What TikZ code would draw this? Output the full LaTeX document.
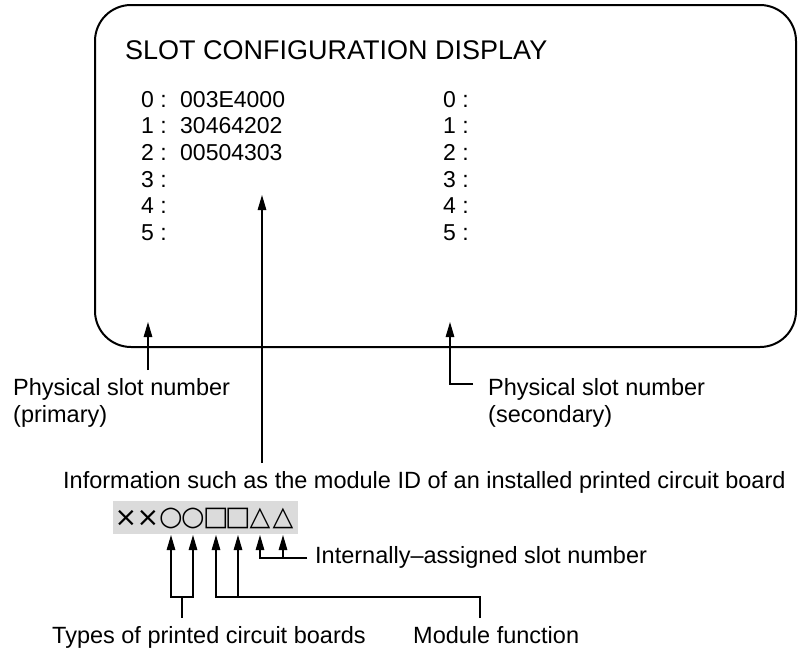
\documentclass[tikz,border=0pt]{standalone}
\usepackage{fontspec}
\setmainfont{Liberation Sans}
\newfontfamily\symfont{DejaVu Sans}
\usetikzlibrary{arrows.meta}
\begin{document}
\begin{tikzpicture}[x=1pt,y=-1pt,
  conn/.style={line width=1.3pt},
  arr/.style={conn,-{Triangle[length=15pt,width=8.5pt]}},
  lbl/.style={anchor=base west,inner sep=0pt,font=\fontsize{23.5}{28}\selectfont},
  rowtxt/.style={anchor=base west,inner sep=0pt,font=\fontsize{23}{27}\selectfont},
  ttl/.style={anchor=base west,inner sep=0pt,font=\fontsize{27}{32}\selectfont},
  sym/.style={inner sep=0pt,font=\symfont\fontsize{27}{30}\selectfont},
]
\useasboundingbox (0,0) rectangle (801,654);
% screen frame
\draw[line width=2pt,rounded corners=36pt] (95,5) rectangle (796,347);
\node[ttl] (title) at (125,59) {SLOT CONFIGURATION DISPLAY};
% left column
\node[rowtxt] (l0) at (141,107) {0 :};
\node[rowtxt] (v0) at (180,107) {003E4000};
\node[rowtxt] (l1) at (141,133.7) {1 :};
\node[rowtxt] (v1) at (180,133.7) {30464202};
\node[rowtxt] (l2) at (141,160.4) {2 :};
\node[rowtxt] (v2) at (180,160.4) {00504303};
\node[rowtxt] (l3) at (141,187.1) {3 :};
\node[rowtxt] (l4) at (141,213.8) {4 :};
\node[rowtxt] (l5) at (141,240.5) {5 :};
% right column
\node[rowtxt] (r0) at (443,107) {0 :};
\node[rowtxt] (r1) at (443,133.7) {1 :};
\node[rowtxt] (r2) at (443,160.4) {2 :};
\node[rowtxt] (r3) at (443,187.1) {3 :};
\node[rowtxt] (r4) at (443,213.8) {4 :};
\node[rowtxt] (r5) at (443,240.5) {5 :};
% physical slot number (primary)
\coordinate (pTip) at (148,322);
\coordinate (pEnd) at (148,370);
\draw[arr] (pEnd) -- (pTip);
\node[lbl] (pLbl1) at (13,395) {Physical slot number};
\node[lbl] (pLbl2) at (13,422) {(primary)};
% physical slot number (secondary)
\coordinate (sTip) at (450,322);
\coordinate (sEnd) at (473,384);
\draw[arr] (sEnd) -| (sTip);
\node[lbl] (sLbl1) at (488,395) {Physical slot number};
\node[lbl] (sLbl2) at (488,422) {(secondary)};
% module ID information
\coordinate (iTip) at (262,195);
\coordinate (iEnd) at (262,463);
\draw[arr] (iEnd) -- (iTip);
\node[lbl] (info) at (63,488) {Information such as the module ID of an installed printed circuit board};
% code digits
\fill[gray!28] (113,501) rectangle (298,534);
\node[sym] (x1) at (126,518) {×};
\node[sym] (x2) at (148,518) {×};
\node[sym] (c1) at (171,518) {○};
\node[sym] (c2) at (193,518) {○};
\node[sym] (q1) at (216,518) {□};
\node[sym] (q2) at (238,518) {□};
\node[sym] (t1) at (260,518) {△};
\node[sym] (t2) at (283,518) {△};
% brackets
\coordinate (cJoin) at (182,597);
\coordinate (cEnd) at (182,618);
\draw[arr] (cJoin) -| (c1.south |- 0,535);
\draw[arr] (cJoin) -| (c2.south |- 0,535);
\draw[conn] (cJoin) -- (cEnd);
\coordinate (mCorner) at (480,597);
\coordinate (mEnd) at (480,618);
\draw[arr] (mEnd) -- (mCorner) -| (q1.south |- 0,535);
\draw[arr] (mCorner) -| (q2.south |- 0,535);
\coordinate (tEnd) at (307,558);
\draw[arr] (tEnd) -| (t1.south |- 0,535);
\draw[arr] (tEnd) -| (t2.south |- 0,535);
\node[lbl] (tLbl) at (315,563) {Internally–assigned slot number};
\node[lbl] (cLbl) at (52,643) {Types of printed circuit boards};
\node[lbl] (mLbl) at (413,643) {Module function};
\end{tikzpicture}
\end{document}
